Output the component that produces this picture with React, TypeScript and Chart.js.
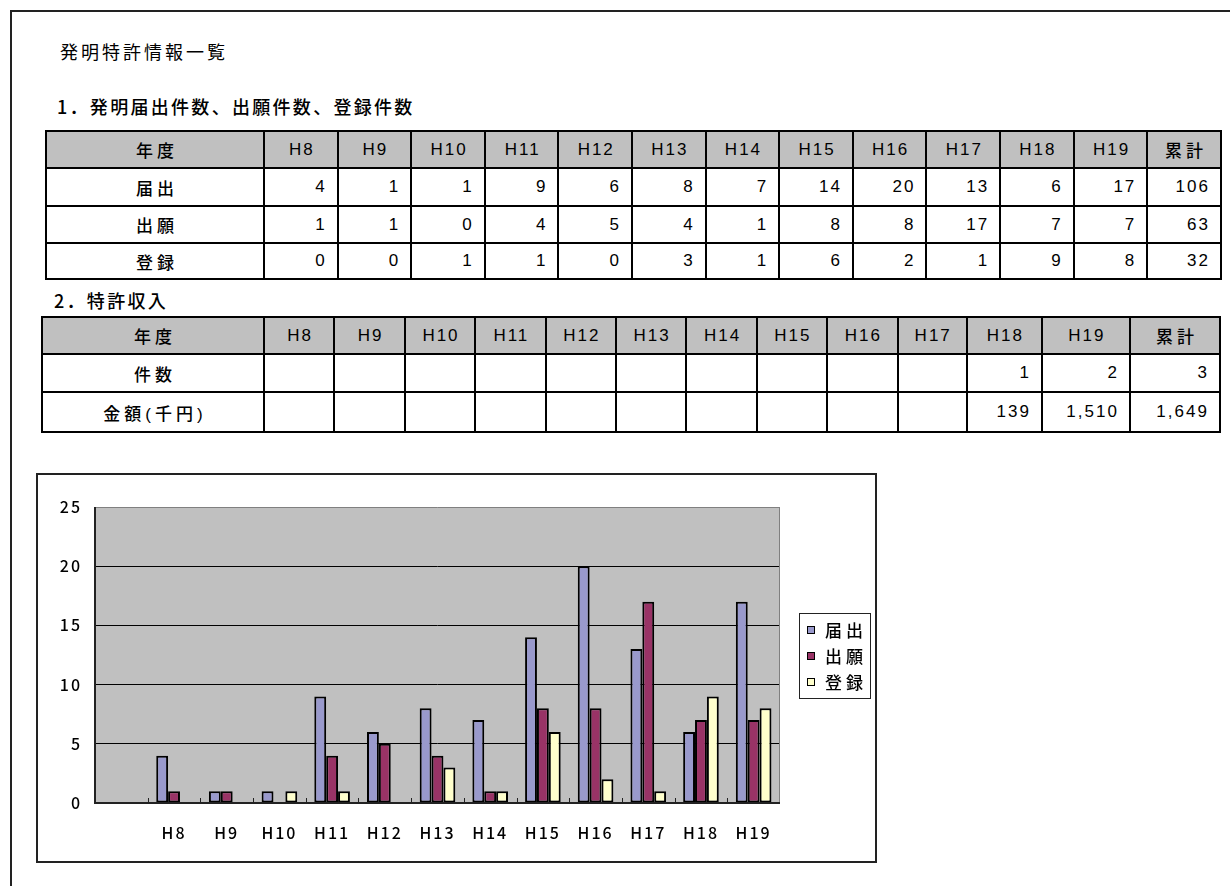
import React, { useEffect, useRef } from "react";
import { Chart, registerables } from "chart.js";

Chart.register(...registerables);

// ---------- data ----------
const years = ["H8", "H9", "H10", "H11", "H12", "H13", "H14", "H15", "H16", "H17", "H18", "H19"];
const chartCategories = ["", ...years];
const seriesNames = ["届出", "出願", "登録"];
const filed = [4, 1, 1, 9, 6, 8, 7, 14, 20, 13, 6, 17];
const applied = [1, 1, 0, 4, 5, 4, 1, 8, 8, 17, 7, 7];
const registered = [0, 0, 1, 1, 0, 3, 1, 6, 2, 1, 9, 8];
const table1Totals = [106, 63, 32];
const incomeCounts: (number | null)[] = [null, null, null, null, null, null, null, null, null, null, 1, 2];
const incomeAmounts: (number | null)[] = [null, null, null, null, null, null, null, null, null, null, 139, 1510];
const incomeTotals = [3, 1649];
const yTicks = [0, 5, 10, 15, 20, 25];
const seriesColors = ["#9999CC", "#993366", "#FFFFCC"];

const pageTitle = "発明特許情報一覧";
const heading1 = "1．発明届出件数、出願件数、登録件数";
const heading2 = "2．特許収入";
const headerYear = "年度";
const headerTotal = "累計";
const incomeRowNames = ["件数", "金額(千円)"];

// ---------- styles ----------
const CJK_FONT = '"Noto Sans CJK JP", sans-serif';
const TABLE_FONT = '"Liberation Sans", "Noto Sans CJK JP", sans-serif';

const isCJK = (s: string) => /[^\x00-\x7f]/.test(s);
const fmt = (v: number | null | undefined) => (v === null || v === undefined ? "" : v.toLocaleString("en-US"));

type CellSpec = { text: string; header?: boolean; align: "center" | "right" };

function GridTable(props: { left: number; top: number; colWidths: number[]; rowHeights: number[]; cells: CellSpec[][] }) {
  const { left, top, colWidths, rowHeights, cells } = props;
  return (
    <div
      style={{
        position: "absolute",
        left,
        top,
        display: "grid",
        gridTemplateColumns: colWidths.map((w) => w + "px").join(" "),
        gridTemplateRows: rowHeights.map((h) => h + "px").join(" "),
        gap: 2,
        padding: 2,
        background: "#000",
      }}
    >
      {cells.flatMap((row, r) =>
        row.map((c, k) => {
          const cjk = isCJK(c.text);
          const ls = cjk ? 4 : 2;
          return (
            <div
              key={r + "-" + k}
              style={{
                background: c.header ? "#C0C0C0" : "#fff",
                display: "flex",
                alignItems: "center",
                justifyContent: c.align === "center" ? "center" : "flex-end",
                paddingRight: c.align === "right" ? 10 : 0,
                paddingLeft: c.align === "center" ? ls : 0,
                fontFamily: TABLE_FONT,
                fontSize: 17,
                fontWeight: 500,
                letterSpacing: ls + "px",
                color: "#000",
                whiteSpace: "nowrap",
                overflow: "hidden",
              }}
            >
              {c.text}
            </div>
          );
        })
      )}
    </div>
  );
}

// table 1 geometry (border line positions)
const t1Left = 45;
const t1FirstRight = 263;
const t1Right = 1220;
const t1Pitch = (t1Right - t1FirstRight) / 13;
const t1Cols = [t1FirstRight - t1Left - 2, ...Array.from({ length: 13 }, () => t1Pitch - 2)];
const t1Rows = [35, 36, 35, 34];

// table 2 geometry
const t2Lines = [41, 263, 333.4, 403.8, 474.2, 544.6, 615, 685.4, 755.8, 826.2, 896.6, 966, 1041, 1129, 1219];
const t2Cols = t2Lines.slice(1).map((x, i) => x - t2Lines[i] - 2);
const t2Rows = [35, 36, 38];

function buildTable1(): CellSpec[][] {
  const header: CellSpec[] = [headerYear, ...years, headerTotal].map((t) => ({ text: t, header: true, align: "center" }));
  const series = [filed, applied, registered];
  const body = series.map((vals, i) => [
    { text: seriesNames[i], align: "center" } as CellSpec,
    ...vals.map((v) => ({ text: fmt(v), align: "right" } as CellSpec)),
    { text: fmt(table1Totals[i]), align: "right" } as CellSpec,
  ]);
  return [header, ...body];
}

function buildTable2(): CellSpec[][] {
  const header: CellSpec[] = [headerYear, ...years, headerTotal].map((t) => ({ text: t, header: true, align: "center" }));
  const series = [incomeCounts, incomeAmounts];
  const body = series.map((vals, i) => [
    { text: incomeRowNames[i], align: "center" } as CellSpec,
    ...vals.map((v) => ({ text: fmt(v), align: "right" } as CellSpec)),
    { text: fmt(incomeTotals[i]), align: "right" } as CellSpec,
  ]);
  return [header, ...body];
}

// ---------- chart ----------
const CANVAS_W = 837;
const CANVAS_H = 386;

const plotPlugin = {
  id: "excelPlot",
  beforeDraw(chart: any) {
    const ctx = chart.ctx as any;
    ctx.letterSpacing = "2px";
    const a = chart.chartArea;
    ctx.save();
    ctx.fillStyle = "#C0C0C0";
    ctx.fillRect(a.left, a.top, a.right - a.left, a.bottom - a.top);
    ctx.restore();
  },
  afterDatasetsDraw(chart: any) {
    const ctx = chart.ctx as any;
    const a = chart.chartArea;
    const xs = chart.scales.x;
    ctx.save();
    // right border of plot (gray)
    ctx.strokeStyle = "#808080";
    ctx.lineWidth = 1;
    ctx.beginPath();
    ctx.moveTo(Math.round(a.right) - 0.5, a.top);
    ctx.lineTo(Math.round(a.right) - 0.5, a.bottom);
    ctx.stroke();
    // inward tick marks between categories
    ctx.strokeStyle = "#222";
    const n = chart.data.labels.length;
    for (let i = 1; i < n; i++) {
      const x = (xs.getPixelForValue(i - 1) + xs.getPixelForValue(i)) / 2;
      ctx.beginPath();
      ctx.moveTo(Math.round(x) + 0.5, a.bottom);
      ctx.lineTo(Math.round(x) + 0.5, a.bottom - 5);
      ctx.stroke();
    }
    // axes
    ctx.strokeStyle = "#222";
    ctx.lineWidth = 2;
    ctx.beginPath();
    ctx.moveTo(a.left, a.bottom);
    ctx.lineTo(a.right, a.bottom);
    ctx.stroke();
    ctx.beginPath();
    ctx.moveTo(a.left, a.top);
    ctx.lineTo(a.left, a.bottom + 1);
    ctx.stroke();
    ctx.restore();
  },
  afterDraw(chart: any) {
    const ctx = chart.ctx as any;
    ctx.save();
    const bx = 761.5, by = 138.5, bw = 71, bh = 85;
    ctx.fillStyle = "#fff";
    ctx.fillRect(bx, by, bw, bh);
    ctx.strokeStyle = "#222";
    ctx.lineWidth = 1;
    ctx.strokeRect(bx, by, bw, bh);
    ctx.font = "500 17px " + CJK_FONT;
    ctx.letterSpacing = "4px";
    ctx.textBaseline = "middle";
    ctx.textAlign = "left";
    chart.data.datasets.forEach((ds: any, i: number) => {
      const cy = 155 + i * 26;
      ctx.fillStyle = ds.backgroundColor;
      ctx.fillRect(769, cy - 4, 8, 8);
      ctx.strokeStyle = "#000";
      ctx.strokeRect(769.5, cy - 3.5, 7, 7);
      ctx.fillStyle = "#000";
      ctx.fillText(ds.label, 787, cy + 1);
    });
    ctx.restore();
  },
};

function BarChart() {
  const ref = useRef<HTMLCanvasElement>(null);
  useEffect(() => {
    const series = [filed, applied, registered];
    const chart = new Chart(ref.current as HTMLCanvasElement, {
      type: "bar",
      data: {
        labels: chartCategories,
        datasets: series.map((vals, i) => ({
          label: seriesNames[i],
          data: [null, ...vals],
          backgroundColor: seriesColors[i],
          borderColor: "#000",
          borderWidth: 2,
          borderSkipped: false,
          categoryPercentage: 0.676,
          barPercentage: 1,
        })),
      },
      options: {
        responsive: false,
        animation: false,
        devicePixelRatio: 1,
        layout: { padding: { top: 32, right: 95, bottom: 0, left: 0 } },
        plugins: { legend: { display: false }, tooltip: { enabled: false } },
        scales: {
          x: {
            grid: { display: false },
            border: { display: false },
            ticks: {
              color: "#000",
              font: { family: CJK_FONT, size: 16, weight: "500" },
              padding: 12,
              maxRotation: 0,
              autoSkip: false,
            },
            afterFit: (s: any) => {
              s.height = 58;
            },
          },
          y: {
            min: yTicks[0],
            max: yTicks[yTicks.length - 1],
            afterBuildTicks: (s: any) => {
              s.ticks = yTicks.map((v) => ({ value: v }));
            },
            grid: {
              color: (c: any) => (c.tick && c.tick.value === yTicks[yTicks.length - 1] ? "#808080" : "#000"),
              lineWidth: 1,
              drawTicks: false,
            },
            border: { display: false },
            ticks: {
              color: "#000",
              font: { family: CJK_FONT, size: 16, weight: "500" },
              padding: 13,
            },
            afterFit: (s: any) => {
              s.width = 57;
            },
          },
        },
      } as any,
      plugins: [plotPlugin],
    });
    return () => chart.destroy();
  }, []);
  return <canvas ref={ref} width={CANVAS_W} height={CANVAS_H} style={{ display: "block", width: CANVAS_W, height: CANVAS_H }} />;
}

export default function App() {
  return (
    <div style={{ position: "fixed", left: 0, top: 0, width: 1230, height: 886, overflow: "hidden", background: "#fff", color: "#000" }}>
      <div style={{ position: "absolute", left: 10, top: 10, width: 1300, height: 1000, border: "2px solid #222" }} />
      <div style={{ position: "absolute", left: 60, top: 39, fontFamily: CJK_FONT, fontSize: 18, lineHeight: "24px", letterSpacing: "3px", whiteSpace: "nowrap" }}>
        {pageTitle}
      </div>
      <div style={{ position: "absolute", left: 57, top: 94, fontFamily: CJK_FONT, fontSize: 18, fontWeight: 500, lineHeight: "24px", letterSpacing: "2.3px", whiteSpace: "nowrap" }}>
        {heading1}
      </div>
      <GridTable left={t1Left} top={130} colWidths={t1Cols} rowHeights={t1Rows} cells={buildTable1()} />
      <div style={{ position: "absolute", left: 54, top: 288, fontFamily: CJK_FONT, fontSize: 18, fontWeight: 500, lineHeight: "24px", letterSpacing: "2.3px", whiteSpace: "nowrap" }}>
        {heading2}
      </div>
      <GridTable left={t2Lines[0]} top={316} colWidths={t2Cols} rowHeights={t2Rows} cells={buildTable2()} />
      <div style={{ position: "absolute", left: 36, top: 473, width: 841, height: 390, boxSizing: "border-box", border: "2px solid #222", background: "#fff" }}>
        <BarChart />
      </div>
    </div>
  );
}
